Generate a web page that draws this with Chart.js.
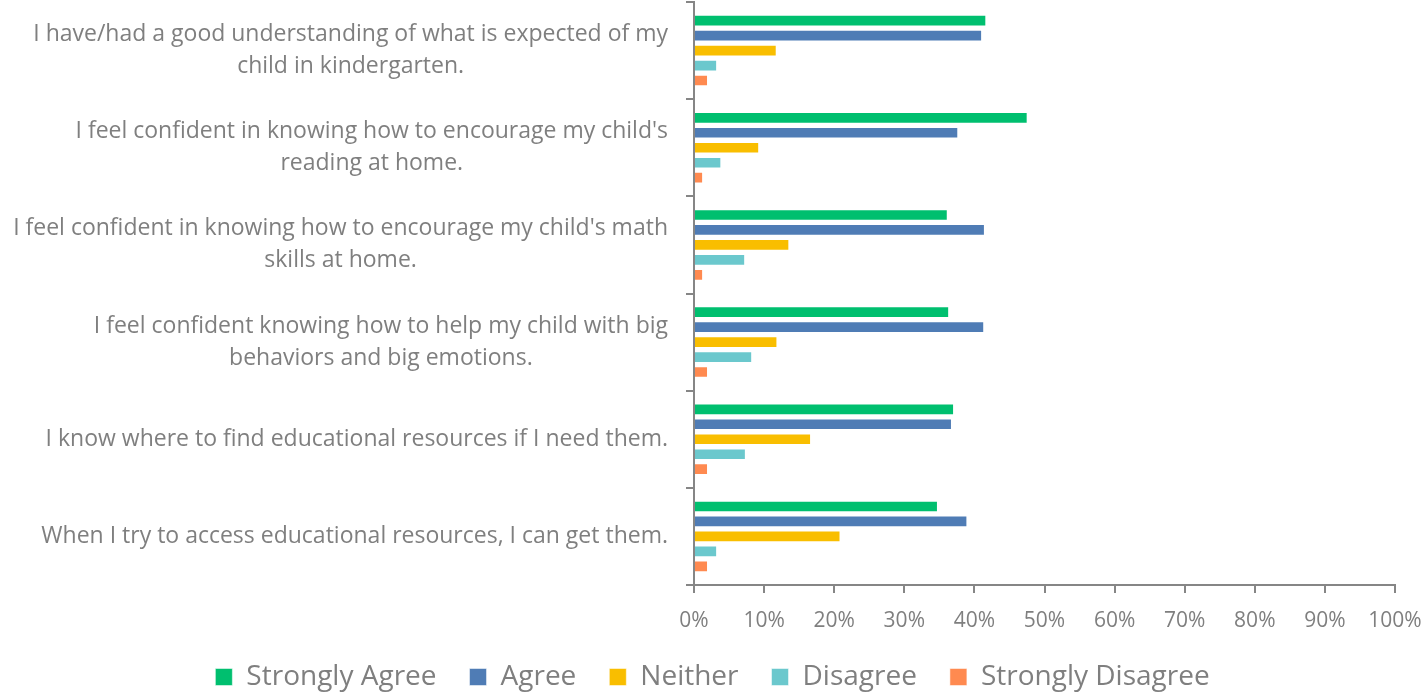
<!DOCTYPE html>
<html>
<head>
<meta charset="utf-8">
<script src="https://cdn.jsdelivr.net/npm/chart.js@4.4.0/dist/chart.umd.min.js"></script>
<style>
  html, body { margin: 0; padding: 0; background: #fff; }
  #wrap { width: 1425px; height: 697px; }
</style>
</head>
<body>
<div id="wrap"><canvas id="chart" width="1425" height="697"></canvas></div>
<script>
// questions (each one split in lines as in the picture)
const categories = [
    ['I have/had a good understanding of what is expected of my', 'child in kindergarten.'],
    ["I feel confident in knowing how to encourage my child's", 'reading at home.'],
    ["I feel confident in knowing how to encourage my child's math", 'skills at home.'],
    ['I feel confident knowing how to help my child with big', 'behaviors and big emotions.'],
    ['I know where to find educational resources if I need them.'],
    ['When I try to access educational resources, I can get them.']
];

// percentages
const stronglyAgree    = [41.7, 47.6, 36.2, 36.4, 37.1, 34.8];
const agree            = [41.1, 37.7, 41.5, 41.4, 36.8, 39.0];
const neither          = [11.8, 9.3, 13.6, 11.9, 16.7, 20.9];
const disagree         = [3.3, 3.9, 7.3, 8.3, 7.4, 3.3];
const stronglyDisagree = [2.0, 1.3, 1.3, 2.0, 2.0, 2.0];

const seriesNames = ['Strongly Agree', 'Agree', 'Neither', 'Disagree', 'Strongly Disagree'];
const seriesColors = ['#00BF6F', '#4F7CB5', '#F9BE00', '#6BC8CD', '#FF8A50'];
const xTicks = [0, 10, 20, 30, 40, 50, 60, 70, 80, 90, 100];

const textGray = '#7f7f7f';
const axisGray = '#868686';
const fontFamily = '"Open Sans", Lato, sans-serif';

const allSeries = [stronglyAgree, agree, neither, disagree, stronglyDisagree];

// draws the y labels: block aligned right, lines centred inside the block
const labelPlugin = {
    id: 'blockLabels',
    afterDraw(chart) {
        const yScale = chart.scales.y;
        const ctx = chart.ctx;
        ctx.save();
        ctx.font = '23px ' + fontFamily;
        ctx.fillStyle = textGray;
        ctx.textAlign = 'center';
        ctx.textBaseline = 'middle';
        const lineH = 32;
        const right = yScale.right - 26;
        categories.forEach((lines, i) => {
            const yMid = yScale.getPixelForValue(i);
            const w = Math.max(...lines.map(l => ctx.measureText(l).width));
            const cx = right - w / 2;
            const top = yMid - (lines.length - 1) * lineH / 2;
            lines.forEach((l, j) => ctx.fillText(l, cx, top + j * lineH));
        });
        ctx.restore();
    }
};

// legend keeps wide gaps between items but a shorter box
const legendHeight = {
    id: 'legendHeight',
    afterInit(chart) {
        const leg = chart.legend;
        const fit = leg.fit.bind(leg);
        leg.fit = function () {
            fit();
            this.height = 67;
        };
    }
};

const ctx = document.getElementById('chart').getContext('2d');
new Chart(ctx, {
    type: 'bar',
    data: {
        labels: categories,
        datasets: allSeries.map((d, i) => ({
            label: seriesNames[i],
            data: d,
            backgroundColor: seriesColors[i],
            borderColor: 'rgba(255,255,255,0.5)',
            borderWidth: 1,
            categoryPercentage: 0.77,
            barPercentage: 0.78
        }))
    },
    options: {
        indexAxis: 'y',
        responsive: false,
        animation: false,
        layout: { padding: { top: 2, right: 0, left: 0, bottom: 0 } },
        plugins: {
            legend: {
                position: 'bottom',
                labels: {
                    color: textGray,
                    font: { size: 28, family: fontFamily },
                    boxWidth: 17,
                    boxHeight: 17,
                    padding: 33
                }
            },
            tooltip: { enabled: false }
        },
        scales: {
            x: {
                min: 0,
                max: 100,
                afterBuildTicks(scale) {
                    scale.ticks = xTicks.map(v => ({ value: v }));
                },
                afterFit(scale) {
                    scale.height = 45;
                    scale.paddingRight = 30;
                },
                ticks: {
                    color: textGray,
                    font: { size: 21, family: fontFamily },
                    padding: 15,
                    callback: v => v + '%'
                },
                grid: {
                    drawOnChartArea: false,
                    color: axisGray,
                    lineWidth: 2,
                    tickLength: 8
                },
                border: { color: axisGray, width: 2 }
            },
            y: {
                ticks: { display: false },
                afterFit(scale) {
                    scale.width = 694;
                },
                grid: {
                    drawOnChartArea: false,
                    color: axisGray,
                    lineWidth: 2,
                    tickLength: 8
                },
                border: { color: axisGray, width: 2 }
            }
        }
    },
    plugins: [labelPlugin, legendHeight]
});
</script>
</body>
</html>
